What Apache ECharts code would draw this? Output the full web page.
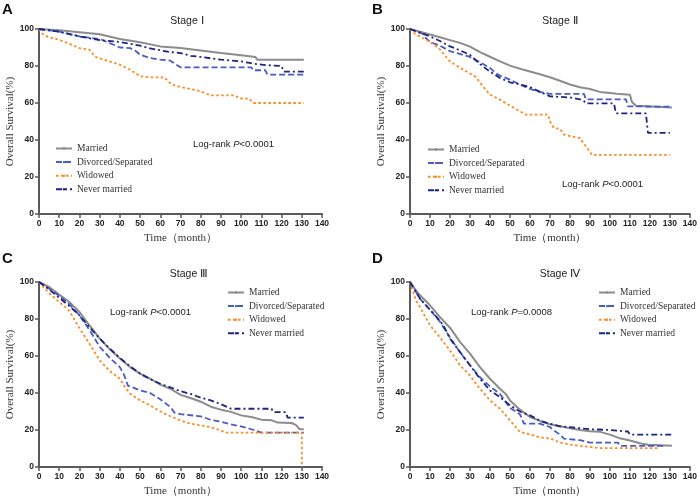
<!DOCTYPE html>
<html>
<head>
<meta charset="utf-8">
<script src="https://cdn.jsdelivr.net/npm/echarts@6/dist/echarts.min.js"></script>
<style>html,body{margin:0;padding:0;background:#fff}#c{width:700px;height:504px}</style>
</head>
<body>
<div id="c"></div>
<script>
// ---------- data (month, overall survival %) ----------
const groupNames = ['Married', 'Divorced/Separated', 'Widowed', 'Never married'];
const panelLetters = ['A', 'B', 'C', 'D'];
const stageTitles = ['Stage Ⅰ', 'Stage Ⅱ', 'Stage Ⅲ', 'Stage Ⅳ'];
const pValues = ['<0.0001', '<0.0001', '<0.0001', '=0.0008'];
const xTicks = [0, 140, 10];
const yTicks = [0, 100, 20];

const aMarried = [[0,100],[10,99.3],[20,98.3],[30,97.2],[40,94.6],[50,92.8],[60,90.6],[70,89.7],[80,88.4],[90,87],[100,85.8],[107,84.9],[108,83.4],[131,83.4]];
const aDivorced = [[0,100],[10,98.6],[20,96],[30,94.6],[35,92.4],[40,90],[45,89.7],[48,88],[50,86.1],[55,84.3],[60,83.4],[65,82.9],[68,80.7],[70,79.3],[105,79.3],[106,77.7],[112,77.7],[113,75.3],[131,75.3]];
const aWidowed = [[0,100],[2,97],[5,95.5],[10,94.2],[15,92],[20,89.7],[25,88.8],[27,86],[28,84.9],[35,82.5],[40,80.7],[45,78],[48,76],[50,74.4],[55,73.9],[62,73.9],[64,71.5],[66,69.9],[70,68.6],[75,67.6],[80,66.3],[83,65],[85,64.1],[97,64.1],[99,62.5],[104,62.3],[106,60],[131,60]];
const aNever = [[0,100],[10,98.5],[20,96],[30,94],[40,93],[45,92],[50,91],[55,89.5],[60,88.5],[65,87.5],[70,87],[75,85.5],[80,84.9],[90,83.4],[100,82.5],[105,81.5],[108,81],[112,80.5],[120,80],[121,77],[131,77]];

const bMarried = [[0,100],[5,98.5],[10,97],[15,95.5],[20,94],[25,92.5],[30,90.5],[35,87.5],[40,85],[45,82.5],[50,80.2],[55,78.5],[60,77],[65,75.5],[70,73.9],[75,72],[80,70],[85,68.5],[90,67.6],[95,66],[100,65.4],[105,64.8],[110,64.4],[111,60.5],[113,58.5],[114,57.8],[131,57.6]];
const bDivorced = [[0,100],[5,98],[7,97],[8,95],[10,93],[15,91],[20,88],[25,86.5],[30,84.9],[35,82],[40,79],[43,76],[45,74.8],[50,72.6],[55,70],[60,67.6],[65,66],[70,64.9],[87,64.9],[88,62],[108,62],[109,58.2],[131,58]];
const bWidowed = [[0,100],[3,97],[5,96],[10,93],[15,89],[18,85],[20,82.5],[25,79],[30,75.9],[33,74],[35,71],[38,67],[40,64.5],[45,61.8],[50,58.6],[55,55.5],[58,53.7],[69,53.7],[70,50],[72,46.5],[75,46],[77,42.9],[85,41],[87,38],[89,35],[91,32],[130,32]];
const bNever = [[0,100],[5,98],[10,96],[15,93.5],[20,90.6],[25,88.5],[30,86],[35,81],[40,77],[45,73.5],[50,71.2],[55,70],[60,68.6],[65,66],[70,63.6],[80,63],[85,62],[87,61],[88,59.8],[102,59.8],[103,54.4],[118,54.4],[119,43.8],[130,43.8]];

const cMarried = [[0,100],[5,97.3],[10,93.2],[15,89.2],[20,83.8],[25,76.5],[30,69.5],[35,63.6],[40,58.6],[45,54],[50,50.5],[55,47.7],[60,44.5],[65,42.3],[70,39],[75,37.3],[80,35.3],[85,32.6],[90,31],[95,29.8],[100,27.9],[105,27],[110,25.6],[115,25.3],[118,24],[125,23.8],[127,22.8],[129,20.4],[131,20.4]];
const cDivorced = [[0,100],[5,96.5],[10,92.5],[15,88],[20,82],[25,74],[30,65],[35,59],[40,54],[42,50],[44,44],[50,41.4],[55,40],[60,36.6],[65,32.4],[67,29.4],[70,28.6],[80,27.4],[85,25.5],[90,24.5],[95,23],[100,22],[105,20.4],[110,18.6],[131,18.6]];
const cWidowed = [[0,100],[5,94],[10,89.2],[15,84.5],[20,75],[25,66.5],[30,57.7],[35,51.9],[40,47.7],[42,44],[45,39.6],[50,36],[55,33.3],[60,30],[65,27.4],[70,25.2],[75,23.4],[80,22.5],[85,21.5],[90,19.8],[92,18.6],[130,18.6],[130,0]];
const cNever = [[0,100],[5,96],[10,91.5],[15,87],[20,82],[25,75.5],[30,69.5],[35,64],[40,59],[45,54.5],[50,50.5],[55,47.5],[60,45],[65,43],[70,41],[75,39.5],[80,37.5],[85,36],[90,34],[95,31.5],[115,31.5],[116,29.7],[122,29.7],[123,26.7],[131,26.7]];

const dMarried = [[0,100],[3,95.5],[5,92.8],[10,87.4],[15,81],[20,75.3],[25,67.6],[30,61.3],[35,54],[40,47.7],[45,42.3],[48,39.3],[50,36],[55,31],[60,27],[65,24.9],[70,23.1],[75,22],[80,20.9],[85,20],[90,19.3],[95,19],[100,17.5],[105,15.5],[110,14.3],[115,12.8],[119,12],[131,11.5]];
const dDivorced = [[0,100],[5,91],[10,85],[15,78.5],[17,75],[20,70],[25,62],[30,55],[35,48.5],[40,43.6],[45,39.5],[48,35],[50,32],[55,28.5],[57,23.4],[65,23.4],[70,21.6],[72,19.8],[75,17.5],[77,15.3],[85,14.5],[90,13.2],[104,13.2],[105,11.4],[128,11.4]];
const dWidowed = [[0,100],[3,90],[5,86.5],[10,76.6],[15,70],[20,63],[25,55],[30,49.5],[35,42.3],[40,36],[45,31.5],[50,25.2],[55,18.9],[60,17.7],[65,15.9],[70,15.5],[75,13.2],[80,12.1],[90,10.8],[95,10.2],[125,10.2]];
const dNever = [[0,100],[5,91],[10,85],[15,79],[17,76],[20,69.4],[25,62.2],[30,55],[35,47.7],[40,41.4],[45,37.8],[50,33.3],[55,30],[60,27.9],[65,25],[70,23.4],[75,22],[80,21.5],[90,20.4],[100,20],[105,19.5],[109,19.2],[110,17.5],[131,17.5]];

const panelData = [
  [aMarried, aDivorced, aWidowed, aNever],
  [bMarried, bDivorced, bWidowed, bNever],
  [cMarried, cDivorced, cWidowed, cNever],
  [dMarried, dDivorced, dWidowed, dNever]
];

// ---------- layout & style ----------
const grids = [
  {left: 39, top: 29, width: 283, height: 185},
  {left: 410, top: 29, width: 282, height: 185},
  {left: 39, top: 282, width: 283, height: 185},
  {left: 410, top: 282, width: 282, height: 185}
];
const lineStyles = [
  {color: '#8c8c8c', width: 2, type: 'solid'},
  {color: '#4a5ac6', width: 1.8, type: [6, 3]},
  {color: '#ff8a1e', width: 1.8, type: [2.5, 2.5]},
  {color: '#1c2580', width: 1.8, type: [6, 3, 2, 3]}
];
const legendPos = [[55, 143], [427, 144], [227, 287], [598, 287]];
const titlePos = [[187, 16], [560, 16], [189, 269], [560, 269]];
const letterPos = [[2, 2], [372, 2], [2, 251], [372, 251]];
const logrankPos = [[193, 145], [562, 185], [110, 313], [471, 313]];

const axisColor = '#5a5a5a';
const serif = "'Liberation Serif', 'Times New Roman', serif";
const sans = "'Liberation Sans', Arial, sans-serif";

const xAxis = [], yAxis = [], series = [], legend = [], title = [], graphic = [];
for (let p = 0; p < 4; p++) {
  xAxis.push({
    type: 'value', gridIndex: p, min: xTicks[0], max: xTicks[1], interval: xTicks[2],
    name: 'Time（month）', nameLocation: 'middle', nameGap: 19,
    nameTextStyle: {fontFamily: serif, fontSize: 11, color: '#333'},
    axisLine: {show: true, lineStyle: {color: axisColor, width: 2}},
    axisTick: {show: true, length: 4, lineStyle: {color: axisColor, width: 1.5}},
    axisLabel: {fontFamily: sans, fontSize: 8.5, fontWeight: 'bold', color: '#222', margin: 5},
    splitLine: {show: false}
  });
  yAxis.push({
    type: 'value', gridIndex: p, min: yTicks[0], max: yTicks[1], interval: yTicks[2],
    name: 'Overall Survival(%)', nameLocation: 'middle', nameGap: 18.5,
    nameTextStyle: {fontFamily: serif, fontSize: 11, color: '#333'},
    axisLine: {show: true, lineStyle: {color: axisColor, width: 2}},
    axisTick: {show: true, length: 4, lineStyle: {color: axisColor, width: 1.5}},
    axisLabel: {fontFamily: sans, fontSize: 8.5, fontWeight: 'bold', color: '#222', margin: 5},
    splitLine: {show: false}
  });
  for (let g = 0; g < 4; g++) {
    series.push({
      type: 'line', name: groupNames[g], xAxisIndex: p, yAxisIndex: p,
      data: panelData[p][g], symbol: 'none', showSymbol: false,
      lineStyle: lineStyles[g], itemStyle: {color: lineStyles[g].color},
      z: 2 + g
    });
  }
  legend.push({
    data: groupNames, orient: 'vertical', left: legendPos[p][0], top: legendPos[p][1],
    padding: 0, itemWidth: 16, itemHeight: 3, itemGap: 2.6, selectedMode: false,
    textStyle: {fontFamily: serif, fontSize: 9.5, color: '#333', lineHeight: 11}
  });
  title.push({
    text: stageTitles[p], left: titlePos[p][0], top: titlePos[p][1], textAlign: 'center', padding: 0,
    textStyle: {fontFamily: sans, fontSize: 10.5, fontWeight: 'normal', color: '#222'}
  });
  title.push({
    text: panelLetters[p], left: letterPos[p][0], top: letterPos[p][1], padding: 0,
    textStyle: {fontFamily: sans, fontSize: 15, fontWeight: 'bold', color: '#111'}
  });
  graphic.push({
    type: 'text', left: logrankPos[p][0], top: logrankPos[p][1] - 6,
    style: {
      text: '{a|Log-rank }{b|P}{a|' + pValues[p] + '}',
      rich: {
        a: {fontFamily: sans, fontSize: 9.5, fill: '#222'},
        b: {fontFamily: sans, fontSize: 9.5, fontStyle: 'italic', fill: '#222'}
      }
    }
  });
}

const chart = echarts.init(document.getElementById('c'));
chart.setOption({
  animation: false,
  backgroundColor: '#fff',
  grid: grids,
  xAxis: xAxis,
  yAxis: yAxis,
  series: series,
  legend: legend,
  title: title,
  graphic: graphic
});
</script>
</body>
</html>
